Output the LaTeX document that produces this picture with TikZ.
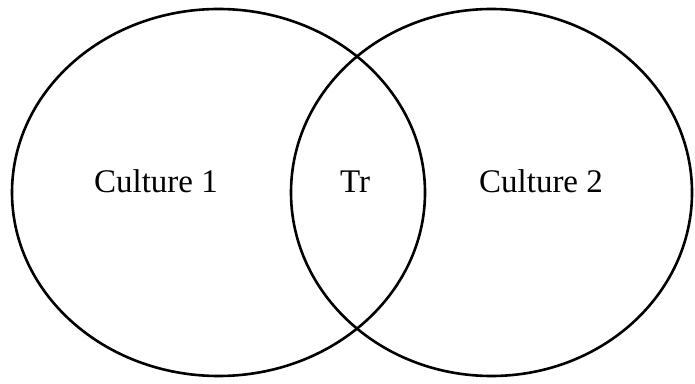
\documentclass[tikz,border=0pt]{standalone}
\usepackage{fontspec}
\setmainfont{Liberation Serif}
\begin{document}
\begin{tikzpicture}[x=1pt, y=1pt]
	\useasboundingbox (0, 0) rectangle (695, 383);
	% Ellipsen
	\draw[line width=2.6pt] (218.5, 190.5) ellipse (206.5 and 183.5);
	\draw[line width=2.6pt] (491.5, 190.5) ellipse (200.5 and 183.5);
	% Beschriftungen
	\node[anchor=base, inner sep=0] (kultur1) at (156, 190) {\fontsize{33}{33}\selectfont Culture 1};
	\node[anchor=base, inner sep=0] (tr) at (355, 190) {\fontsize{33}{33}\selectfont Tr};
	\node[anchor=base, inner sep=0] (kultur2) at (541, 190) {\fontsize{33}{33}\selectfont Culture 2};
\end{tikzpicture}
\end{document}
